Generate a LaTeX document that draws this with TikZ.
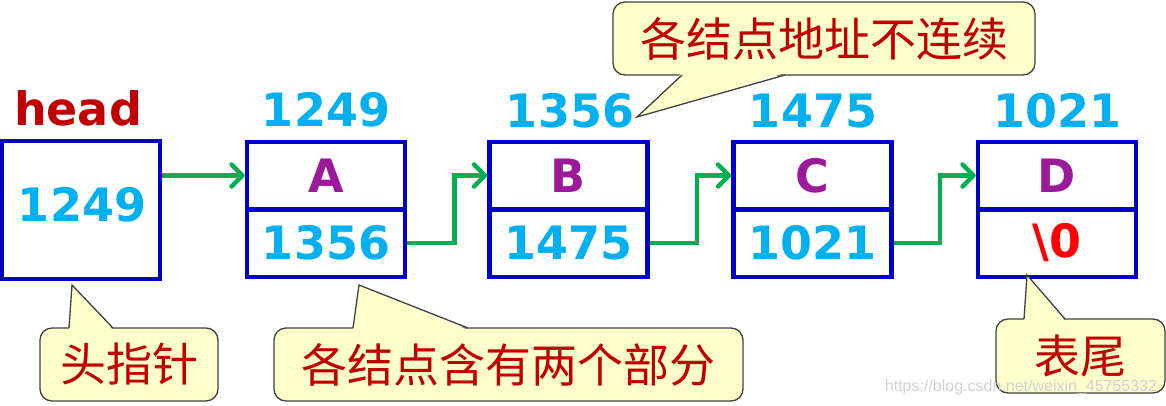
\documentclass[tikz,border=0pt]{standalone}
\usepackage{fontspec}
\newfontfamily\vf{DejaVu Sans}
\newfontfamily\cjk{Noto Sans CJK SC}
\newfontfamily\wmfont{Liberation Sans}
\usetikzlibrary{arrows.meta,calc}
\definecolor{boxblue}{HTML}{0000C8}
\definecolor{numcyan}{HTML}{00B0F0}
\definecolor{letpurple}{HTML}{9A1A9A}
\definecolor{darkred}{HTML}{C00000}
\definecolor{linkgreen}{HTML}{00B050}
\definecolor{calfill}{HTML}{FFFFCC}
\definecolor{calline}{HTML}{404040}
\tikzset{
  big/.style={font=\vf\bfseries\fontsize{46}{50}\selectfont},
  cell/.style={draw=boxblue, line width=4.5pt, minimum width=158pt, minimum height=67.5pt, inner sep=0pt, big},
  numtxt/.style={big, text=numcyan, inner sep=0pt},
  lettxt/.style={big, text=letpurple},
  link/.style={draw=linkgreen, line width=4.5pt, -{Straight Barb[length=11pt,width=22pt,round]}},
  callbox/.style={draw=calline, fill=calfill, line width=1.3pt, rounded corners=12pt, inner sep=0pt,
    font=\cjk\fontsize{46}{50}\selectfont, text=darkred},
  calptr/.style={draw=calline, line width=1.3pt, line join=miter},
}
\begin{document}
\begin{tikzpicture}[x=1pt,y=-1pt]
\useasboundingbox (0,0) rectangle (1166,405);
% head
\node[big, text=darkred, inner sep=0pt] (headlbl) at (78,108) {head};
\node[draw=boxblue, line width=4.5pt, minimum width=158pt, minimum height=138pt, inner sep=0pt] (head) at (81,210) {};
\node[numtxt] (headval) at (82,205) {1249};
% nodes
\node[cell, lettxt] (A1) at (326,175.5) {A};
\node[cell, numtxt] (A2) at (326,243) {1356};
\node[cell, lettxt] (B1) at (568.5,175.5) {B};
\node[cell, numtxt] (B2) at (568.5,243) {1475};
\node[cell, lettxt] (C1) at (812.5,175.5) {C};
\node[cell, numtxt] (C2) at (812.5,243) {1021};
\node[cell, lettxt] (D1) at (1057,175.5) {D};
\node[cell, big, text=red] (D2) at (1057,243) {\textbackslash 0};
% address labels
\node[numtxt] (adA) at (326,110) {1249};
\node[numtxt] (adB) at (570,111) {1356};
\node[numtxt] (adC) at (813,111) {1475};
\node[numtxt] (adD) at (1057,111) {1021};
% links
\draw[link] (A1.west -| head.east) -- (A1.west);
\draw[link] (A2.east) -- ++(47,0) |- (B1.west);
\draw[link] (B2.east) -- ++(47,0) |- (C1.west);
\draw[link] (C2.east) -- ++(46,0) |- (D1.west);
% callout: top
\node[callbox, minimum width=422pt, minimum height=73pt] (ctop) at (824,38.5) {各结点地址不连续};
\coordinate (ttop) at (637,117);
\fill[calfill] (682,73) -- (ttop) -- (785,73) -- cycle;
\draw[calptr] (682,75) -- (ttop) -- (785,75);
% callout: head pointer
\node[callbox, minimum width=178pt, minimum height=73pt] (chead) at (129,364.5) {头指针};
\coordinate (thead) at (72,285);
\fill[calfill] (69,330) -- (thead) -- (113,330) -- cycle;
\draw[calptr] (69,328) -- (thead) -- (113,328);
% callout: two parts
\node[callbox, minimum width=469pt, minimum height=73pt] (cparts) at (508.5,364.5) {各结点含有两个部分};
\coordinate (tparts) at (359,285);
\fill[calfill] (353,330) -- (tparts) -- (468,330) -- cycle;
\draw[calptr] (353,328) -- (tparts) -- (468,328);
% callout: tail
\node[callbox, minimum width=169pt, minimum height=74pt] (ctail) at (1080.5,356) {表尾};
\coordinate (ttail) at (1027,275);
\fill[calfill] (1024,321) -- (ttail) -- (1065,321) -- cycle;
\draw[calptr] (1024,319) -- (ttail) -- (1065,319);
% watermark
\node[font=\wmfont\fontsize{16}{18}\selectfont, text=black!18, inner sep=0pt] (wm) at (1021,387) {https://blog.csdn.net/weixin\_45755332};
\end{tikzpicture}
\end{document}
